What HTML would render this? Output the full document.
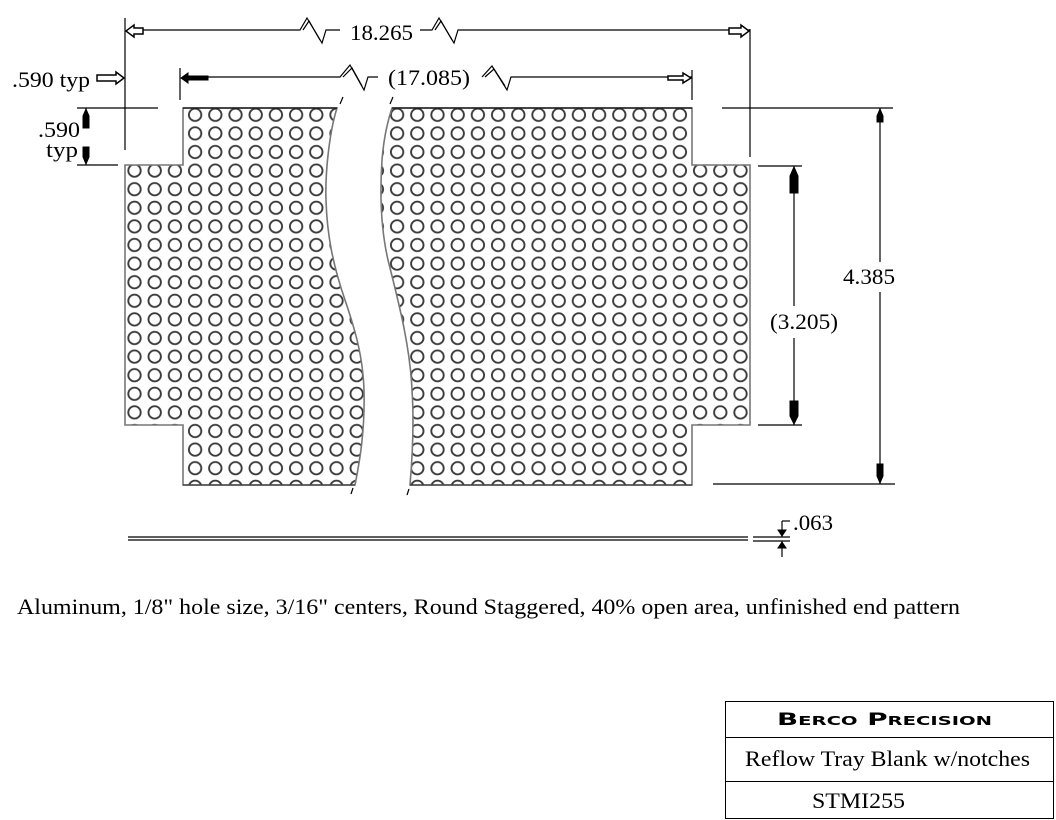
<!DOCTYPE html>
<html><head><meta charset="utf-8"><style>
html,body{margin:0;padding:0;background:#fff;}
svg{display:block;}
text{font-family:"Liberation Serif",serif;fill:#000;}
</style></head><body>
<svg width="1056" height="820" viewBox="0 0 1056 820" xmlns="http://www.w3.org/2000/svg">
<defs>
<pattern id="holesL" x="185" y="105.5" width="20.2" height="18.6" patternUnits="userSpaceOnUse">
<circle cx="10.1" cy="9.3" r="6.2" fill="none" stroke="#3a3a3a" stroke-width="1.9"/>
</pattern>
<pattern id="holesR" x="387" y="105.5" width="20.2" height="18.6" patternUnits="userSpaceOnUse">
<circle cx="10.1" cy="9.3" r="6.2" fill="none" stroke="#3a3a3a" stroke-width="1.9"/>
</pattern>
</defs>
<g stroke="#000" fill="none" stroke-width="1.2">
<path d="M183,108 L337,108 C330,130 325,170 326,200 C327,235 333,265 345,300 C357,335 363,360 364,390 C365,430 360,460 355,485 L183,485 L183,425 L125,425 L125,165 L183,165 Z" fill="url(#holesL)" stroke="#777" stroke-width="1.6"/>
<path d="M392,108 L692,108 L692,165 L750,165 L750,425 L692,425 L692,485 L410,485 C413,450 414,420 412,390 C410,345 398,300 388,260 C380,225 380,190 382,160 C384,135 388,120 392,108 Z" fill="url(#holesR)" stroke="#777" stroke-width="1.6"/>
<line x1="183" y1="108" x2="337" y2="108" stroke="#000"/>
<line x1="392" y1="108" x2="692" y2="108" stroke="#000"/>
<line x1="183" y1="485" x2="355" y2="485" stroke="#333"/>
<line x1="410" y1="485" x2="692" y2="485" stroke="#333"/>
<line x1="340" y1="104" x2="343" y2="97"/>
<line x1="390" y1="104" x2="393" y2="97"/>
<line x1="351" y1="494" x2="353" y2="488"/>
<line x1="407" y1="495" x2="409" y2="489"/>

<line x1="125" y1="18" x2="125" y2="150"/>
<line x1="750" y1="29" x2="750" y2="157"/>
<path d="M130,30 L300,30 L307,18 L322,43 L326,30 L340,30"/>
<path d="M303,30 L309,21 L320,40"/>
<path d="M420,30 L432,30 L439,18 L454,43 L458,30 L750,30"/>
<path d="M435,30 L441,21 L452,40"/>
<line x1="180" y1="68" x2="180" y2="100"/>
<line x1="692" y1="70" x2="692" y2="100"/>
<path d="M185,77 L340,77 L350,65 L364,90 L368,77 L378,77"/>
<path d="M343,77 L352,68 L362,86"/>
<path d="M482,77 L492,66 L507,90 L511,77 L692,77"/>
<path d="M485,77 L494,69 L505,86"/>

<line x1="77" y1="108" x2="158" y2="108"/>
<line x1="77" y1="165" x2="118" y2="165"/>
<line x1="86" y1="108" x2="86" y2="120"/>
<line x1="86" y1="150" x2="86" y2="165"/>

<line x1="722" y1="108" x2="893" y2="108"/>
<line x1="713" y1="484" x2="895" y2="484"/>
<line x1="880" y1="108" x2="880" y2="262"/>
<line x1="880" y1="292" x2="880" y2="484"/>
<line x1="758" y1="166" x2="802" y2="166"/>
<line x1="758" y1="425" x2="802" y2="425"/>
<line x1="794" y1="166" x2="794" y2="306"/>
<line x1="794" y1="338" x2="794" y2="425"/>

<line x1="128" y1="537" x2="748" y2="537"/>
<line x1="128" y1="540" x2="748" y2="540"/>
<line x1="753" y1="537" x2="790" y2="537"/>
<line x1="753" y1="541" x2="790" y2="541"/>
<line x1="782" y1="521" x2="782" y2="537"/>
<line x1="782" y1="541" x2="782" y2="557"/>
<line x1="782" y1="521" x2="790" y2="521"/>

<rect x="725.5" y="701.5" width="328" height="117" stroke-width="1"/>
<line x1="725" y1="737.5" x2="1054" y2="737.5" stroke-width="1"/>
<line x1="725" y1="781.5" x2="1054" y2="781.5" stroke-width="1"/>
</g>

<g fill="#000" stroke="#000" stroke-width="1">
<path d="M126,31 L134,25 L134,28 L143,28 L143,34 L134,34 L134,37 Z" fill="#fff" stroke-width="1.5"/>
<path d="M749,31 L741,25 L741,28 L729,28 L729,34 L741,34 L741,37 Z" fill="#fff" stroke-width="1.5"/>
<path d="M181,78 L188,73 L188,76 L208,76 L208,80 L188,80 L188,83 Z"/>
<path d="M691,78 L683,73 L683,76 L668,76 L668,80 L683,80 L683,83 Z" fill="#fff" stroke-width="1.5"/>
<path d="M124,78 L116,72 L116,75 L97,75 L97,81 L116,81 L116,84 Z" fill="#fff" stroke-width="1.5"/>
<path d="M86,109 L83,116 L83,128 L89,128 L89,116 Z"/>
<path d="M86,164 L83,157 L83,147 L89,147 L89,157 Z"/>
<path d="M880,109 L877,116 L877,122 L883,122 L883,116 Z"/>
<path d="M880,483 L877,476 L877,464 L883,464 L883,476 Z"/>
<path d="M794,167 L790,176 L790,193 L798,193 L798,176 Z"/>
<path d="M794,424 L790,416 L790,401 L798,401 L798,416 Z"/>
<path d="M782,536 L778,530 L786,530 Z"/>
<path d="M782,542 L778,548 L786,548 Z"/>
</g>

<g font-size="22">
<text x="350" y="40" textLength="63" lengthAdjust="spacingAndGlyphs">18.265</text>
<text x="388" y="85" textLength="82" lengthAdjust="spacingAndGlyphs">(17.085)</text>
<text x="12" y="87" textLength="78" lengthAdjust="spacingAndGlyphs">.590 typ</text>
<text x="38" y="137" textLength="42" lengthAdjust="spacingAndGlyphs">.590</text>
<text x="46" y="157" textLength="32" lengthAdjust="spacingAndGlyphs">typ</text>
<text x="843" y="284" textLength="52" lengthAdjust="spacingAndGlyphs">4.385</text>
<text x="770" y="329" textLength="68" lengthAdjust="spacingAndGlyphs">(3.205)</text>
<text x="793" y="530" textLength="40" lengthAdjust="spacingAndGlyphs">.063</text>
<text x="17" y="614" textLength="943" lengthAdjust="spacingAndGlyphs">Aluminum, 1/8" hole size, 3/16" centers, Round Staggered, 40% open area, unfinished end pattern</text>
<text x="745" y="766" textLength="285" lengthAdjust="spacingAndGlyphs">Reflow Tray Blank w/notches</text>
<text x="812" y="808" textLength="93" lengthAdjust="spacingAndGlyphs">STMI255</text>
</g>
<text x="777" y="725" font-weight="bold" font-size="17" style="font-variant:small-caps;font-family:'DejaVu Sans',sans-serif" textLength="215" lengthAdjust="spacingAndGlyphs">Berco Precision</text>
</svg>
</body></html>
